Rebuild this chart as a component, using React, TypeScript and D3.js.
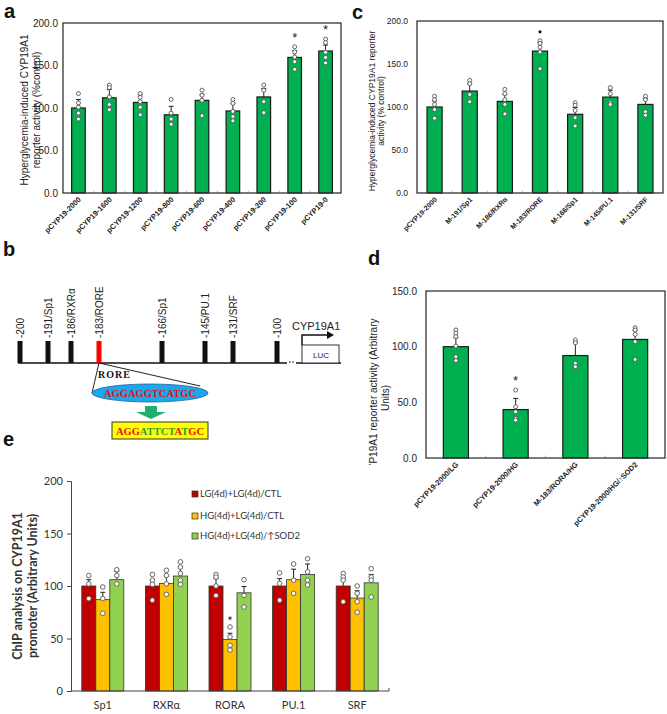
import { useEffect, useRef } from 'react'
import * as d3 from 'd3'

const SANS = "'Liberation Sans', Arial, sans-serif"
const SERIF = "'Liberation Serif', 'Times New Roman', serif"
const CAL = "Lato, 'Open Sans', sans-serif"
const GREEN = '#00b050'

// ---- panel a: deletion constructs
const A_LABELS = ['pCYP19-2000', 'pCYP19-1600', 'pCYP19-1200', 'pCYP19-800', 'pCYP19-600', 'pCYP19-400', 'pCYP19-200', 'pCYP19-100', 'pCYP19-0']
const A_MEANS = [100, 112, 106.5, 92, 109, 96.5, 113, 159.5, 167]
const A_ERR = [10, 10, 9, 10, 7, 9, 10, 8, 7]
const A_DOTS = [
  [117, 106, 101, 94, 87], [127, 124, 113, 104, 98], [117, 112.5, 107.5, 101, 92],
  [110, 94, 87, 81], [121, 115, 109, 91], [110, 105.5, 96, 90, 85],
  [127, 121, 107.5, 94.5], [172, 166, 160, 154.5, 145.5], [181, 177, 165.5, 159.5, 153],
]
const A_SIG = [false, false, false, false, false, false, false, true, true]

// ---- panel c: site mutants
const C_LABELS = ['pCYP19-2000', 'M-191/Sp1', 'M-186/RXRα', 'M-183/RORE', 'M-166/Sp1', 'M-145/PU.1', 'M-131/SRF']
const C_MEANS = [100, 118.5, 106.5, 165, 91.5, 111.5, 103]
const C_ERR = [7, 9, 8, 10, 8, 8, 7]
const C_DOTS = [
  [112.5, 108.5, 103, 97, 87], [131, 127, 114.5, 106], [120.5, 115.5, 108.5, 103, 92],
  [177, 174, 169.5, 164, 144.5], [105, 102, 96, 87.5, 78], [122.5, 115.5, 105, 103], [112.5, 108.5, 94.5, 90.5],
]
const C_SIG = [false, false, false, true, false, false, false]

// ---- panel d
const D_LABELS = ['pCYP19-2000/LG', 'pCYP19-2000/HG', 'M-183/RORA/HG', 'pCYP19-2000/HG/↑SOD2']
const D_MEANS = [100, 43.5, 92, 106.5]
const D_ERR = [8, 10, 12, 8]
const D_DOTS = [[115, 112, 109, 100.5, 91, 87.5], [61, 46, 41.5, 35.5, 34], [106, 103.5, 85, 82], [117, 115, 111, 104.5, 88.5]]
const D_SIG = [false, true, false, false]

// ---- panel b: promoter map
const SITE_POS = [-200, -191, -186, -183, -166, -145, -131, -100]
const SITE_NAMES = ['-200', '-191/Sp1', '-186/RXRα', '-183/RORE', '-166/Sp1', '-145/PU.1', '-131/SRF', '-100']
const SITE_X = [20, 48, 71, 99, 162, 205, 233, 277]
const RORE_WT = 'AGGAGGTCATGC'
const RORE_MUT = [['AGG', '#e81010'], ['ATTCT', '#1fa040'], ['A', '#e81010'], ['T', '#1fa040'], ['GC', '#e81010']]

// ---- panel e: ChIP
const E_GROUPS = ['Sp1', 'RXRα', 'RORA', 'PU.1', 'SRF']
const E_SERIES = ['LG(4d)+LG(4d)/CTL', 'HG(4d)+LG(4d)/CTL', 'HG(4d)+LG(4d)/↑SOD2']
const E_COLORS = ['#c00000', '#ffc000', '#92d050']
const E_MEANS = [
  [100, 100, 100, 100, 100],
  [87, 102.5, 49, 106, 88.5],
  [106, 109.5, 93.5, 111, 103],
]
const E_ERR = [
  [6, 6, 7, 7, 6],
  [7, 7, 6, 10, 7],
  [8, 9, 6, 10, 8],
]
const E_DOTS = [
  [[110, 102, 88], [111, 105.5, 101.5, 86.5], [111, 108.5, 100, 91], [112.5, 102.5, 86.5], [112, 108.5, 105.5, 85]],
  [[99, 88, 74], [115, 110, 102, 92], [61, 51.5, 43.5, 39], [121, 105.5, 93], [100, 93, 85, 75]],
  [[115.5, 110, 102], [123, 118, 112, 105.5, 101.5], [106, 91, 80], [126, 113.5, 105.5, 101], [116.5, 108.5, 105.5, 89.5]],
]
const E_SIG = [[false, false, false, false, false], [false, false, true, false, false], [false, false, false, false, false]]

type Sel = d3.Selection<SVGGElement, unknown, null, undefined>

interface BarCfg {
  left: number; right: number; top: number; bottom: number; max: number; step: number
  labels: string[]; means: number[]; errs: number[]; dots: number[][]; sig: boolean[]
  sigMark: 'star' | 'dot'; barFrac: number; tickFont: number; tickGap: number; xFont: number
}

function barPanel(root: Sel, c: BarCfg) {
  const g = root.append('g')
  const x = d3.scaleBand<string>().domain(c.labels).range([c.left, c.right])
  const y = d3.scaleLinear().domain([0, c.max]).range([c.bottom, c.top])
  const bw = x.bandwidth() * c.barFrac

  // small grey ticks between bars
  c.labels.slice(1).forEach(l => {
    g.append('line').attr('x1', x(l)!).attr('x2', x(l)!).attr('y1', c.bottom).attr('y2', c.bottom - 2.5)
      .attr('stroke', '#aaa').attr('stroke-width', 0.8)
  })

  d3.range(0, c.max + 0.01, c.step).forEach(v => {
    g.append('text').attr('x', c.left - c.tickGap).attr('y', y(v)).attr('dy', '0.35em')
      .attr('text-anchor', 'end').attr('font-size', c.tickFont).attr('fill', '#222').text(v.toFixed(1))
  })

  c.labels.forEach((l, i) => {
    const cx = x(l)! + x.bandwidth() / 2
    const top = y(c.means[i])
    const et = y(c.means[i] + c.errs[i])
    g.append('line').attr('x1', cx).attr('x2', cx).attr('y1', top).attr('y2', et).attr('stroke', '#222').attr('stroke-width', 1)
    g.append('line').attr('x1', cx - 2.5).attr('x2', cx + 2.5).attr('y1', et).attr('y2', et).attr('stroke', '#222').attr('stroke-width', 1)
    g.append('rect').attr('x', cx - bw / 2).attr('y', top).attr('width', bw).attr('height', c.bottom - top)
      .attr('fill', GREEN).attr('stroke', '#1a1a1a').attr('stroke-width', 1.2)
    c.dots[i].forEach(v => {
      g.append('circle').attr('cx', cx).attr('cy', y(v)).attr('r', 2).attr('fill', '#fff').attr('stroke', '#555').attr('stroke-width', 0.9)
    })
    if (c.sig[i]) {
      const sy = y(d3.max(c.dots[i])!) - 11
      if (c.sigMark === 'star') {
        g.append('text').attr('x', cx).attr('y', sy + 6).attr('text-anchor', 'middle').attr('font-size', 13).attr('fill', '#222').text('*')
      } else {
        g.append('circle').attr('cx', cx).attr('cy', sy + 2).attr('r', 1.6).attr('fill', '#111')
      }
    }
    g.append('text').attr('transform', `translate(${cx + 3},${c.bottom + 7}) rotate(-45)`)
      .attr('text-anchor', 'end').attr('font-size', c.xFont).attr('font-weight', 'bold').attr('fill', '#222').text(l)
  })

  g.append('rect').attr('x', c.left).attr('y', c.top).attr('width', c.right - c.left).attr('height', c.bottom - c.top)
    .attr('fill', 'none').attr('stroke', '#333').attr('stroke-width', 1.3)
  return g
}

export default function App() {
  const ref = useRef<SVGSVGElement>(null)

  useEffect(() => {
    if (!ref.current) return
    const svg = d3.select(ref.current)
    svg.selectAll('*').remove()
    const root = svg.append('g').attr('font-family', SANS) as unknown as Sel

    // panel letters
    const letters: [string, number, number][] = [['a', 4, 18], ['c', 352, 19], ['b', 3, 256], ['d', 368, 265], ['e', 3, 446]]
    letters.forEach(([t, lx, ly]) => root.append('text').attr('x', lx).attr('y', ly).attr('font-size', 20)
      .attr('font-weight', 'bold').attr('fill', '#111').text(t))

    // ---------- a
    barPanel(root, { left: 63, right: 341, top: 23, bottom: 193, max: 200, step: 50, labels: A_LABELS, means: A_MEANS,
      errs: A_ERR, dots: A_DOTS, sig: A_SIG, sigMark: 'star', barFrac: 0.44, tickFont: 10, tickGap: 5, xFont: 7.5 })
    const ya = root.append('text').attr('transform', 'translate(28,110) rotate(-90)').attr('text-anchor', 'middle')
      .attr('font-size', 10).attr('fill', '#222')
    ya.append('tspan').attr('x', 0).attr('dy', 0).text('Hyperglycemia-induced CYP19A1')
    ya.append('tspan').attr('x', 0).attr('dy', 12).text('reporter activity (%control)')

    // ---------- c
    barPanel(root, { left: 417, right: 663, top: 21, bottom: 193, max: 200, step: 50, labels: C_LABELS, means: C_MEANS,
      errs: C_ERR, dots: C_DOTS, sig: C_SIG, sigMark: 'dot', barFrac: 0.43, tickFont: 8.5, tickGap: 9, xFont: 7 })
    const yc = root.append('text').attr('transform', 'translate(375,111) rotate(-90)').attr('text-anchor', 'middle')
      .attr('font-size', 8.5).attr('fill', '#222')
    yc.append('tspan').attr('x', 0).attr('dy', 0).text('Hyperglycemia-induced CYP19A1 reporter')
    yc.append('tspan').attr('x', 0).attr('dy', 9).text('activity (% control)')

    // ---------- d
    barPanel(root, { left: 426, right: 665, top: 291, bottom: 458, max: 150, step: 50, labels: D_LABELS, means: D_MEANS,
      errs: D_ERR, dots: D_DOTS, sig: D_SIG, sigMark: 'star', barFrac: 0.42, tickFont: 10, tickGap: 9, xFont: 7.5 })
    svg.append('defs').append('clipPath').attr('id', 'dclip').append('rect').attr('x', 340).attr('y', 280).attr('width', 100).attr('height', 185)
    const yd = root.append('g').attr('clip-path', 'url(#dclip)').append('text').attr('transform', 'translate(377,398) rotate(-90)')
      .attr('text-anchor', 'middle').attr('font-size', 10).attr('fill', '#222')
    yd.append('tspan').attr('x', 0).attr('dy', 0).text('CYP19A1 reporter activity (Arbitrary')
    yd.append('tspan').attr('x', 0).attr('dy', 12).text('Units)')

    // ---------- b : promoter diagram
    const bx = d3.scaleLinear().domain(SITE_POS).range(SITE_X)
    const base = 363
    const b = root.append('g')
    b.append('line').attr('x1', bx(-200) - 2).attr('x2', bx(-100) + 10).attr('y1', base).attr('y2', base).attr('stroke', '#111').attr('stroke-width', 1.3)
    b.append('line').attr('x1', 296).attr('x2', 341).attr('y1', base).attr('y2', base).attr('stroke', '#111').attr('stroke-width', 1.3)
    ;[290, 293].forEach(dx => b.append('circle').attr('cx', dx).attr('cy', base - 1).attr('r', 0.8).attr('fill', '#111'))
    SITE_POS.forEach((p, i) => {
      const sx = bx(p)
      b.append('rect').attr('x', sx - 2.5).attr('y', base - 22).attr('width', 5).attr('height', 22)
        .attr('fill', p === -183 ? '#ff0000' : '#111')
      b.append('text').attr('transform', `translate(${sx + 3.5},${base - 25}) rotate(-90)`).attr('font-size', 10)
        .attr('fill', '#222').text(SITE_NAMES[i])
    })
    // LUC box + transcription arrow
    b.append('rect').attr('x', 302).attr('y', 345).attr('width', 37).attr('height', 18).attr('fill', '#fff').attr('stroke', '#333').attr('stroke-width', 1)
    b.append('text').attr('x', 321).attr('y', 357.5).attr('text-anchor', 'middle').attr('font-size', 8).attr('fill', '#222').text('LUC')
    b.append('path').attr('d', 'M302,345 V335 H330').attr('fill', 'none').attr('stroke', '#111').attr('stroke-width', 1.5)
    b.append('path').attr('d', 'M334,335 L327,331 L327,339 Z').attr('fill', '#111')
    b.append('text').attr('x', 292).attr('y', 330).attr('font-size', 11).attr('fill', '#222').text('CYP19A1')
    // zoom triangle + ellipse
    const rx = bx(-183)
    b.append('path').attr('d', `M${rx},${base} L92,393 M${rx},${base} L200,386`).attr('stroke', '#222').attr('stroke-width', 1).attr('fill', 'none')
    b.append('text').attr('x', 98).attr('y', 378).attr('font-family', SERIF).attr('font-weight', 'bold').attr('font-size', 10)
      .attr('letter-spacing', 1).attr('fill', '#111').text('RORE')
    b.append('ellipse').attr('cx', 150).attr('cy', 393).attr('rx', 58).attr('ry', 9).attr('fill', '#19a8ec').attr('stroke', '#1c5fa0').attr('stroke-width', 0.8)
    b.append('text').attr('x', 150).attr('y', 397).attr('text-anchor', 'middle').attr('font-family', SERIF).attr('font-weight', 'bold')
      .attr('font-size', 10.5).attr('fill', '#e81010').text(RORE_WT)
    b.append('path').attr('d', 'M145,406 H157 V412 H166 L151,419 L136,412 H145 Z').attr('fill', '#1fb070')
    b.append('rect').attr('x', 112).attr('y', 422).attr('width', 96).attr('height', 17).attr('fill', '#ffff00').attr('stroke', '#333').attr('stroke-width', 1)
    const mt = b.append('text').attr('x', 160).attr('y', 435).attr('text-anchor', 'middle').attr('font-family', SERIF)
      .attr('font-weight', 'bold').attr('font-size', 10.5)
    RORE_MUT.forEach(([s, col]) => mt.append('tspan').attr('fill', col).text(s))

    // ---------- e : grouped ChIP bars
    const eL = 71, eR = 389, eT = 481, eB = 691
    const x0 = d3.scaleBand<string>().domain(E_GROUPS).range([eL, eR])
    const x1 = d3.scaleBand<number>().domain([0, 1, 2]).range([0, 42])
    const ey = d3.scaleLinear().domain([0, 200]).range([eB, eT])
    const e = root.append('g').attr('font-family', CAL)
    E_GROUPS.forEach((grp, gi) => {
      const gx = x0(grp)! + (x0.bandwidth() - 42) / 2
      E_SERIES.forEach((_, si) => {
        const v = E_MEANS[si][gi]
        const bx0 = gx + x1(si)!
        const cx = bx0 + x1.bandwidth() / 2
        const et = ey(v + E_ERR[si][gi])
        e.append('line').attr('x1', cx).attr('x2', cx).attr('y1', ey(v)).attr('y2', et).attr('stroke', '#222').attr('stroke-width', 1)
        e.append('line').attr('x1', cx - 2.5).attr('x2', cx + 2.5).attr('y1', et).attr('y2', et).attr('stroke', '#222').attr('stroke-width', 1)
        e.append('rect').attr('x', bx0).attr('y', ey(v)).attr('width', x1.bandwidth()).attr('height', eB - ey(v))
          .attr('fill', E_COLORS[si]).attr('stroke', '#333').attr('stroke-width', 0.8)
        E_DOTS[si][gi].forEach(d => e.append('circle').attr('cx', cx).attr('cy', ey(d)).attr('r', 2.3)
          .attr('fill', '#fff').attr('stroke', '#666').attr('stroke-width', 1))
        if (E_SIG[si][gi]) {
          e.append('text').attr('x', cx).attr('y', ey(d3.max(E_DOTS[si][gi])!) - 1).attr('text-anchor', 'middle')
            .attr('font-size', 13).attr('fill', '#222').text('*')
        }
      })
      e.append('text').attr('x', x0(grp)! + x0.bandwidth() / 2).attr('y', 709).attr('text-anchor', 'middle')
        .attr('font-size', 11).attr('fill', '#333').text(grp)
    })
    const yAxis = e.append('g').attr('transform', `translate(${eL},0)`).call(d3.axisLeft(ey).tickValues([0, 50, 100, 150, 200]).tickSize(4).tickPadding(4))
    yAxis.selectAll('text').attr('font-family', CAL).attr('font-size', 11).attr('fill', '#333')
    yAxis.selectAll('line').attr('stroke', '#444')
    yAxis.select('.domain').attr('stroke', '#444')
    e.append('path').attr('d', `M${eL},${eB} H${eR} V${eB - 3}`).attr('fill', 'none').attr('stroke', '#444').attr('stroke-width', 1)
    const ye = e.append('text').attr('transform', `translate(22,586) rotate(-90)`).attr('text-anchor', 'middle')
      .attr('font-size', 12.5).attr('font-weight', 'bold').attr('fill', '#333')
    ye.append('tspan').attr('x', 0).attr('dy', 0).text('ChIP analysis on CYP19A1')
    ye.append('tspan').attr('x', 0).attr('dy', 15).text('promoter (Arbitrary Units)')

    // legend
    E_SERIES.forEach((s, i) => {
      const ly = [494, 516, 536][i]
      e.append('rect').attr('x', 192).attr('y', ly - 3).attr('width', 6).attr('height', 6).attr('fill', E_COLORS[i]).attr('stroke', '#333').attr('stroke-width', 0.7)
      e.append('text').attr('x', 200).attr('y', ly).attr('dy', '0.35em').attr('font-size', 9.5).attr('fill', '#333').text(s)
    })
  }, [])

  return (
    <svg ref={ref} width={667} height={714} style={{ position: 'absolute', left: 0, top: 0, background: '#fff' }} />
  )
}
